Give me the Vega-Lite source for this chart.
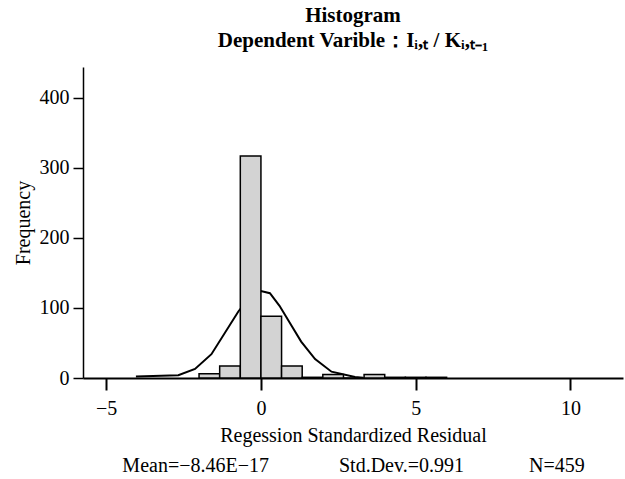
{
  "$schema": "https://vega.github.io/schema/vega-lite/v6.json",
  "autosize": "none",
  "width": 540,
  "height": 311,
  "padding": {"left": 83, "top": 67, "right": 2, "bottom": 101},
  "background": "white",
  "title": {
    "text": ["Histogram", "Dependent Varible：Iᵢ,ₜ / Kᵢ,ₜ₋₁"],
    "font": "Liberation Serif",
    "fontSize": 21,
    "fontWeight": "bold",
    "color": "black",
    "anchor": "middle",
    "lineHeight": 25,
    "offset": 16
  },
  "config": {
    "view": {"stroke": null},
    "axis": {
      "labelFont": "Liberation Serif",
      "titleFont": "Liberation Serif",
      "labelFontSize": 20,
      "titleFontSize": 20,
      "titleFontWeight": "normal",
      "labelColor": "black",
      "titleColor": "black",
      "domainColor": "black",
      "tickColor": "black",
      "grid": false
    }
  },
  "datasets": {
    "bins": [
      {"bin_start": -2.0, "bin_end": -1.3333, "count": 6},
      {"bin_start": -1.3333, "bin_end": -0.6667, "count": 17},
      {"bin_start": -0.6667, "bin_end": 0.0, "count": 317},
      {"bin_start": 0.0, "bin_end": 0.6667, "count": 88},
      {"bin_start": 0.6667, "bin_end": 1.3333, "count": 17},
      {"bin_start": 1.3333, "bin_end": 2.0, "count": 1},
      {"bin_start": 2.0, "bin_end": 2.6667, "count": 5},
      {"bin_start": 2.6667, "bin_end": 3.3333, "count": 0},
      {"bin_start": 3.3333, "bin_end": 4.0, "count": 5},
      {"bin_start": 4.0, "bin_end": 4.6667, "count": 1},
      {"bin_start": 4.6667, "bin_end": 5.3333, "count": 1},
      {"bin_start": 5.3333, "bin_end": 6.0, "count": 1}
    ],
    "curve": [
      {"x": -4.04, "y": 2},
      {"x": -2.67, "y": 4},
      {"x": -2.13, "y": 13},
      {"x": -1.6, "y": 34},
      {"x": -0.73, "y": 95},
      {"x": -0.3, "y": 119},
      {"x": 0.0, "y": 124},
      {"x": 0.29, "y": 121},
      {"x": 0.6, "y": 103},
      {"x": 1.0, "y": 74},
      {"x": 1.3, "y": 52},
      {"x": 1.75, "y": 27},
      {"x": 2.28, "y": 9},
      {"x": 3.04, "y": 1.5},
      {"x": 3.3, "y": 0.5}
    ]
  },
  "layer": [
    {
      "data": {"name": "curve"},
      "mark": {"type": "line", "color": "black", "strokeWidth": 2, "clip": true},
      "encoding": {
        "x": {
          "field": "x", "type": "quantitative",
          "scale": {"domain": [-5.75, 11.7], "nice": false, "zero": false},
          "axis": {
            "values": [-5, 0, 5, 10],
            "tickSize": 12,
            "tickWidth": 2,
            "domainWidth": 2,
            "labelPadding": 8,
            "titlePadding": 7,
            "titleLineHeight": 30,
            "title": ["Regession Standardized Residual", "Mean=−8.46E−17\u00a0\u00a0\u00a0\u00a0\u00a0\u00a0\u00a0\u00a0\u00a0\u00a0\u00a0\u00a0\u00a0\u00a0Std.Dev.=0.991\u00a0\u00a0\u00a0\u00a0\u00a0\u00a0\u00a0\u00a0\u00a0\u00a0\u00a0\u00a0\u00a0N=459"]
          }
        },
        "y": {
          "field": "y", "type": "quantitative",
          "scale": {"domain": [0, 444], "nice": false},
          "axis": {
            "values": [0, 100, 200, 300, 400],
            "tickSize": 10,
            "tickWidth": 1.5,
            "domainWidth": 1.5,
            "labelPadding": 4,
            "titlePadding": 6,
            "title": "Frequency",
            "titleFontSize": 20
          }
        }
      }
    },
    {
      "data": {"name": "bins"},
      "mark": {"type": "bar", "fill": "#d3d3d3", "stroke": "black", "strokeWidth": 1.5},
      "encoding": {
        "x": {"field": "bin_start", "type": "quantitative"},
        "x2": {"field": "bin_end"},
        "y": {"field": "count", "type": "quantitative"},
        "y2": {"datum": 0}
      }
    }
  ]
}
